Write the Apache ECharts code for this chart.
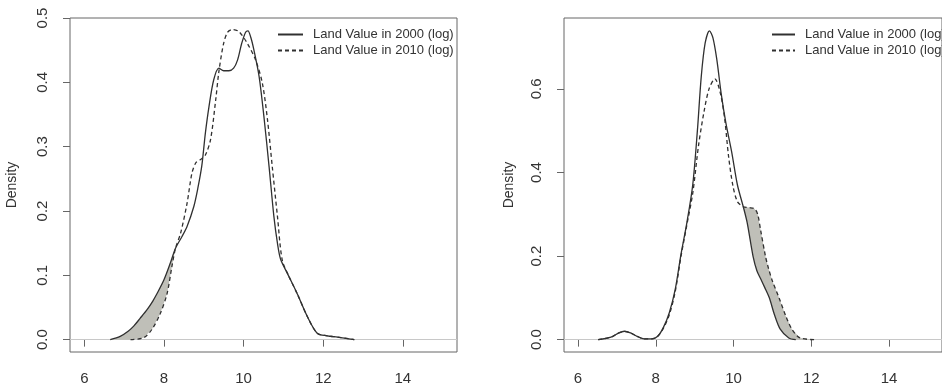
<!DOCTYPE html>
<html>
<head>
<meta charset="utf-8">
<script src="https://cdn.jsdelivr.net/npm/echarts@6/dist/echarts.min.js"></script>
<style>
  html, body { margin: 0; padding: 0; background: #fff; }
  #chart { width: 942px; height: 386px; }
</style>
</head>
<body>
<div id="chart"></div>
<script>
// density estimates, [x, density]
const left2000 = [[6.65,0],[6.9,0.005],[7.1,0.013],[7.24,0.021],[7.4,0.033],[7.58,0.047],[7.72,0.06],[7.83,0.072],[8.0,0.093],[8.16,0.119],[8.29,0.142],[8.45,0.16],[8.58,0.176],[8.75,0.207],[8.85,0.235],[8.95,0.27],[9.04,0.321],[9.13,0.362],[9.25,0.404],[9.38,0.422],[9.5,0.418],[9.63,0.418],[9.75,0.422],[9.85,0.435],[9.95,0.46],[10.05,0.478],[10.11,0.48],[10.18,0.47],[10.26,0.45],[10.39,0.409],[10.51,0.347],[10.64,0.269],[10.76,0.192],[10.85,0.15],[10.93,0.125],[11.1,0.103],[11.35,0.071],[11.6,0.036],[11.85,0.01],[12.1,0.006],[12.36,0.004],[12.78,0]]
const left2010 = [[7.16,0],[7.49,0.003],[7.7,0.016],[7.91,0.041],[8.08,0.072],[8.2,0.114],[8.29,0.142],[8.42,0.166],[8.58,0.212],[8.7,0.258],[8.8,0.275],[8.92,0.28],[9.04,0.287],[9.17,0.311],[9.3,0.373],[9.38,0.417],[9.5,0.461],[9.6,0.478],[9.72,0.482],[9.88,0.479],[10.09,0.461],[10.3,0.435],[10.47,0.399],[10.6,0.342],[10.72,0.269],[10.85,0.192],[10.97,0.124],[11.14,0.098],[11.35,0.071],[11.6,0.036],[11.85,0.01],[12.1,0.006],[12.36,0.004],[12.78,0]]
const right2000 = [[6.52,0],[6.85,0.006],[7.05,0.016],[7.19,0.02],[7.35,0.016],[7.52,0.008],[7.7,0.002],[7.9,0.002],[8.05,0.008],[8.2,0.03],[8.35,0.065],[8.5,0.12],[8.65,0.205],[8.8,0.28],[8.95,0.37],[9.07,0.5],[9.17,0.63],[9.27,0.71],[9.38,0.739],[9.47,0.722],[9.57,0.67],[9.68,0.59],[9.8,0.52],[9.95,0.45],[10.1,0.37],[10.25,0.318],[10.35,0.28],[10.5,0.2],[10.6,0.165],[10.7,0.145],[10.8,0.125],[10.92,0.1],[11.05,0.06],[11.2,0.025],[11.42,0.004],[11.6,0]]
const right2010 = [[6.52,0],[6.85,0.006],[7.05,0.016],[7.19,0.02],[7.35,0.016],[7.52,0.008],[7.7,0.002],[7.9,0.002],[8.05,0.008],[8.2,0.028],[8.35,0.06],[8.5,0.115],[8.65,0.2],[8.8,0.275],[8.95,0.35],[9.1,0.465],[9.24,0.545],[9.37,0.6],[9.52,0.624],[9.66,0.59],[9.77,0.53],[9.87,0.44],[9.98,0.37],[10.1,0.33],[10.25,0.318],[10.4,0.316],[10.54,0.313],[10.62,0.3],[10.7,0.26],[10.82,0.2],[10.9,0.17],[11.0,0.14],[11.17,0.1],[11.35,0.055],[11.5,0.025],[11.71,0.004],[12.1,0]]

const xTicks = [6, 8, 10, 12, 14]
const leftYTicks = [0, 0.1, 0.2, 0.3, 0.4, 0.5]
const rightYTicks = [0, 0.2, 0.4, 0.6]
const names = ['Land Value in 2000 (log)', 'Land Value in 2010 (log)']
// shaded stretches between the two curves
const leftShade = [6.65, 8.29]
const rightShade = [10.25, 12.1]

const font = '"Liberation Sans", Arial, sans-serif'
const ink = '#303030'

const chart = echarts.init(document.getElementById('chart'), null, { renderer: 'canvas' })

const xAxis = (gridIndex) => ({
  type: 'value', gridIndex, min: 5.64, max: 15.36,
  axisLine: { show: false },
  splitLine: { show: false },
  axisTick: { show: true, length: 7, customValues: xTicks, lineStyle: { color: '#666' } },
  axisLabel: { customValues: xTicks, margin: 19, fontSize: 15, color: '#333', fontFamily: font }
})

// R pads the data range by 4% on each side
const yAxis = (gridIndex, top, ticks, nameGap) => ({
  type: 'value', gridIndex, min: -0.04 * top, max: top * 1.04,
  name: 'Density', nameLocation: 'middle', nameGap,
  nameTextStyle: { fontSize: 14, color: '#333', fontFamily: font },
  axisLine: { show: false },
  splitLine: { show: false },
  axisTick: { show: true, length: 7, customValues: ticks, lineStyle: { color: '#666' } },
  axisLabel: {
    customValues: ticks, rotate: 90, margin: 20, fontSize: 15, color: '#333', fontFamily: font,
    formatter: v => v.toFixed(1)
  }
})

const curve = (name, data, idx, dashed, zeroLine) => ({
  type: 'line', name, data, xAxisIndex: idx, yAxisIndex: idx,
  symbol: 'none', smooth: 0.3, z: 3,
  color: ink,
  lineStyle: { color: ink, width: 1.3, type: dashed ? [4, 3] : 'solid' },
  markLine: zeroLine ? {
    silent: true, symbol: 'none', label: { show: false }, z: 1,
    lineStyle: { color: '#c8c8c8', type: 'solid', width: 1 },
    data: [{ yAxis: 0 }]
  } : undefined
})

const shade = (upper, lower, idx, range) => {
  const top = upper.filter(p => p[0] >= range[0] && p[0] <= range[1])
  const bot = lower.filter(p => p[0] >= range[0] && p[0] <= range[1]).reverse()
  const poly = top.concat(bot)
  return {
    type: 'custom', xAxisIndex: idx, yAxisIndex: idx, silent: true, z: 2,
    data: [[range[0], 0]],
    encode: { x: 0, y: 1 },
    renderItem: (params, api) => ({
      type: 'polygon',
      shape: { points: poly.map(p => api.coord(p)) },
      style: { fill: '#bfbfb8', stroke: null }
    })
  }
}

const legend = (left, top, width) => ({
  data: names, orient: 'vertical', left, top,
  itemWidth: width, itemHeight: 14, itemGap: 3,
  itemStyle: { opacity: 0 },
  textStyle: { fontSize: 13, color: '#333', fontFamily: font, padding: [0, 0, 0, 5] }
})

chart.setOption({
  animation: false,
  backgroundColor: '#fff',
  grid: [
    { left: 70, top: 18, width: 387, height: 334, show: true, borderColor: '#666', borderWidth: 1 },
    { left: 564, top: 18, width: 387, height: 334, show: true, borderColor: '#666', borderWidth: 1 }
  ],
  legend: [legend(272, 23, 25), legend(766, 23, 23)],
  xAxis: [xAxis(0), xAxis(1)],
  yAxis: [yAxis(0, 0.4808, leftYTicks, 51), yAxis(1, 0.74, rightYTicks, 48)],
  series: [
    shade(left2000, left2010, 0, leftShade),
    curve(names[0], left2000, 0, false, true),
    curve(names[1], left2010, 0, true, false),
    shade(right2010, right2000, 1, rightShade),
    curve(names[0], right2000, 1, false, true),
    curve(names[1], right2010, 1, true, false)
  ]
})
</script>
</body>
</html>
